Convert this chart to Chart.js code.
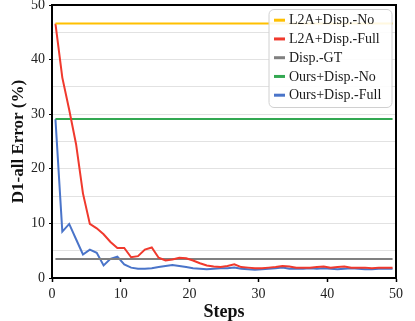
<!DOCTYPE html>
<html>
<head>
<meta charset="utf-8">
<script src="https://cdn.jsdelivr.net/npm/chart.js@4/dist/chart.umd.min.js"></script>
<style>
  html, body { margin: 0; padding: 0; background: #ffffff; }
  #wrap { width: 415px; height: 321px; }
</style>
</head>
<body>
<div id="wrap"><canvas id="c" width="415" height="321"></canvas></div>
<script>
// ---- data ----
const steps = [0.5, 1.5, 2.5, 3.5, 4.5, 5.5, 6.5, 7.5, 8.5, 9.5,
  10.5, 11.5, 12.5, 13.5, 14.5, 15.5, 16.5, 17.5, 18.5, 19.5,
  20.5, 21.5, 22.5, 23.5, 24.5, 25.5, 26.5, 27.5, 28.5, 29.5,
  30.5, 31.5, 32.5, 33.5, 34.5, 35.5, 36.5, 37.5, 38.5, 39.5,
  40.5, 41.5, 42.5, 43.5, 44.5, 45.5, 46.5, 47.5, 48.5, 49.5];

const seriesNames = ["L2A+Disp.-No", "L2A+Disp.-Full", "Disp.-GT", "Ours+Disp.-No", "Ours+Disp.-Full"];

const l2aNo = [46.6, 46.6, 46.6, 46.6, 46.6, 46.6, 46.6, 46.6, 46.6, 46.6,
  46.6, 46.6, 46.6, 46.6, 46.6, 46.6, 46.6, 46.6, 46.6, 46.6,
  46.6, 46.6, 46.6, 46.6, 46.6, 46.6, 46.6, 46.6, 46.6, 46.6,
  46.6, 46.6, 46.6, 46.6, 46.6, 46.6, 46.6, 46.6, 46.6, 46.6,
  46.6, 46.6, 46.6, 46.6, 46.6, 46.6, 46.6, 46.6, 46.6, 46.6];

const l2aFull = [46.6, 36.7, 30.8, 24.5, 15.5, 9.9, 9.1, 8.0, 6.6, 5.5,
  5.5, 3.8, 4.0, 5.2, 5.6, 3.7, 3.2, 3.4, 3.7, 3.6,
  3.2, 2.7, 2.3, 2.1, 2.0, 2.2, 2.5, 2.0, 1.9, 1.8,
  1.8, 1.9, 2.0, 2.2, 2.1, 1.9, 1.9, 1.9, 2.0, 2.1,
  1.9, 2.0, 2.1, 1.9, 1.9, 1.9, 1.8, 1.9, 1.9, 1.9];

const dispGT = [3.5, 3.5, 3.5, 3.5, 3.5, 3.5, 3.5, 3.5, 3.5, 3.5,
  3.5, 3.5, 3.5, 3.5, 3.5, 3.5, 3.5, 3.5, 3.5, 3.5,
  3.5, 3.5, 3.5, 3.5, 3.5, 3.5, 3.5, 3.5, 3.5, 3.5,
  3.5, 3.5, 3.5, 3.5, 3.5, 3.5, 3.5, 3.5, 3.5, 3.5,
  3.5, 3.5, 3.5, 3.5, 3.5, 3.5, 3.5, 3.5, 3.5, 3.5];

const oursNo = [29.1, 29.1, 29.1, 29.1, 29.1, 29.1, 29.1, 29.1, 29.1, 29.1,
  29.1, 29.1, 29.1, 29.1, 29.1, 29.1, 29.1, 29.1, 29.1, 29.1,
  29.1, 29.1, 29.1, 29.1, 29.1, 29.1, 29.1, 29.1, 29.1, 29.1,
  29.1, 29.1, 29.1, 29.1, 29.1, 29.1, 29.1, 29.1, 29.1, 29.1,
  29.1, 29.1, 29.1, 29.1, 29.1, 29.1, 29.1, 29.1, 29.1, 29.1];

const oursFull = [29.1, 8.5, 9.9, 7.1, 4.3, 5.2, 4.6, 2.3, 3.5, 3.9,
  2.5, 1.9, 1.7, 1.7, 1.8, 2.0, 2.2, 2.4, 2.2, 2.0,
  1.8, 1.7, 1.6, 1.7, 1.8, 1.8, 1.9, 1.7, 1.6, 1.5,
  1.6, 1.7, 1.8, 1.9, 1.7, 1.7, 1.7, 1.8, 1.7, 1.8,
  1.7, 1.6, 1.7, 1.8, 1.7, 1.6, 1.6, 1.7, 1.7, 1.7];

const xTicks = [0, 10, 20, 30, 40, 50];
const yTicks = [0, 10, 20, 30, 40, 50];

// ---- styling ----
const colors = ["#FFC000", "#F0392D", "#808080", "#33A852", "#4A74C9"];
const allSeries = [l2aNo, l2aFull, dispGT, oursNo, oursFull];
const FONT = "'Liberation Serif', 'Times New Roman', serif";

const datasets = allSeries.map((vals, k) => ({
  label: seriesNames[k],
  data: vals.map((v, i) => ({ x: steps[i], y: v })),
  borderColor: colors[k],
  backgroundColor: colors[k],
  borderWidth: 2,
  pointRadius: 0,
  tension: 0,
  fill: false,
  order: k
}));

// box (top/right frame) + in-plot legend
const framePlugin = {
  id: 'frame',
  afterDatasetsDraw(chart) {
    const { ctx, chartArea: a } = chart;
    ctx.save();
    ctx.strokeStyle = '#000';
    ctx.lineWidth = 2;
    ctx.beginPath();
    ctx.moveTo(a.left, a.top);
    ctx.lineTo(a.right, a.top);
    ctx.lineTo(a.right, a.bottom);
    ctx.stroke();
    ctx.restore();
  },
  afterDraw(chart) {
    const { ctx, chartArea: a } = chart;
    const ds = chart.data.datasets;
    const w = 123, rowH = 18.75;
    const h = 98;
    const x0 = a.right - 4 - w, y0 = a.top + 4.5;
    ctx.save();
    ctx.beginPath();
    if (ctx.roundRect) ctx.roundRect(x0, y0, w, h, 5); else ctx.rect(x0, y0, w, h);
    ctx.fillStyle = 'rgba(255,255,255,0.88)';
    ctx.fill();
    ctx.strokeStyle = '#d0d0d0';
    ctx.lineWidth = 1;
    ctx.stroke();
    ctx.font = "14px " + FONT;
    ctx.textBaseline = 'middle';
    ctx.textAlign = 'left';
    ds.forEach((d, k) => {
      const cy = y0 + 10.7 + k * rowH;
      ctx.strokeStyle = d.borderColor;
      ctx.lineWidth = 3;
      ctx.beginPath();
      ctx.moveTo(x0 + 5, cy);
      ctx.lineTo(x0 + 16, cy);
      ctx.stroke();
      ctx.fillStyle = '#1a1a1a';
      ctx.fillText(d.label, x0 + 20, cy + 0.5);
    });
    ctx.restore();
  }
};

new Chart(document.getElementById('c'), {
  type: 'line',
  data: { datasets },
  options: {
    responsive: false,
    animation: false,
    devicePixelRatio: 1,
    layout: { padding: { top: 5, right: 19, bottom: 0, left: 0 } },
    plugins: { legend: { display: false }, tooltip: { enabled: false } },
    scales: {
      x: {
        type: 'linear',
        min: 0, max: 50,
        afterBuildTicks(s) { s.ticks = xTicks.map(v => ({ value: v })); },
        afterFit(s) { s.height = 43; s.paddingLeft = 0; s.paddingRight = 0; },
        grid: { drawOnChartArea: false, drawTicks: true, tickLength: 4, tickColor: '#000', tickWidth: 1.5 },
        border: { display: true, color: '#000', width: 2 },
        ticks: { color: '#222', padding: 4, maxRotation: 0, font: { family: FONT, size: 14 } },
        title: { display: true, text: 'Steps', color: '#111', padding: { top: 0, bottom: 0 },
                 font: { family: FONT, size: 18, weight: 'bold', lineHeight: 1.0 } }
      },
      y: {
        min: 0, max: 50,
        afterBuildTicks(s) {
          const t = [];
          yTicks.forEach((v, i) => { t.push({ value: v }); if (i < yTicks.length - 1) t.push({ value: v + 5, minor: true }); });
          s.ticks = t;
        },
        afterFit(s) { s.width = 52; s.paddingTop = 0; s.paddingBottom = 0; },
        grid: {
          color: c => (c.tick && (c.tick.value === 0 || c.tick.value === 50)) ? 'rgba(0,0,0,0)' : '#e2e2e2',
          tickColor: c => (c.tick && c.tick.value % 10 === 0) ? '#000' : 'rgba(0,0,0,0)',
          lineWidth: 1,
          tickLength: 3,
          drawTicks: true
        },
        border: { display: true, color: '#000', width: 2 },
        ticks: {
          color: '#222', padding: 4, font: { family: FONT, size: 14 },
          callback: v => (v % 10 === 0 ? String(v) : '')
        },
        title: { display: true, text: 'D1-all Error (%)', color: '#111', padding: { top: 8, bottom: 0 },
                 font: { family: FONT, size: 17, weight: 'bold', lineHeight: 1.2 } }
      }
    }
  },
  plugins: [framePlugin]
});
</script>
</body>
</html>
